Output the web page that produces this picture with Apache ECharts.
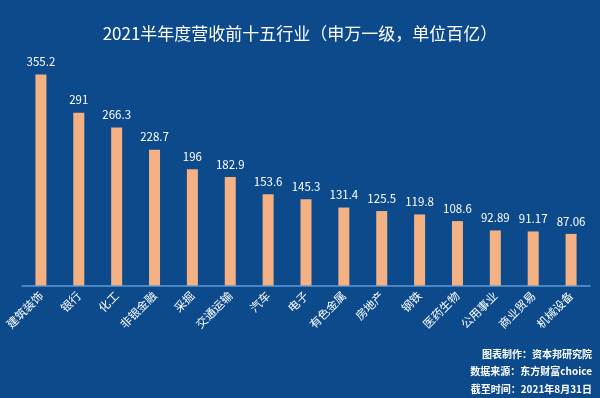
<!DOCTYPE html>
<html>
<head>
<meta charset="utf-8">
<script src="https://cdn.jsdelivr.net/npm/echarts@6/dist/echarts.min.js"></script>
<style>
  html, body { margin: 0; padding: 0; background: #0c4a8c; }
  #main { width: 600px; height: 398px; }
</style>
</head>
<body>
<div id="main"></div>
<script>
  // 行业名称
  var industries = ['建筑装饰', '银行', '化工', '非银金融', '采掘', '交通运输', '汽车', '电子',
    '有色金属', '房地产', '钢铁', '医药生物', '公用事业', '商业贸易', '机械设备'];
  // 营收（百亿）
  var revenue = [355.2, 291, 266.3, 228.7, 196, 182.9, 153.6, 145.3, 131.4, 125.5, 119.8, 108.6, 92.89, 91.17, 87.06];
  var notes = ['图表制作：资本邦研究院', '数据来源：东方财富choice', '截至时间：2021年8月31日'];

  var myChart = echarts.init(document.getElementById('main'));
  var font = '"Noto Sans CJK SC", "Noto Sans", sans-serif';

  myChart.setOption({
    backgroundColor: '#0c4a8c',
    textStyle: { fontFamily: font },
    title: {
      text: '2021半年度营收前十五行业（申万一级，单位百亿）',
      left: 'center',
      top: 20,
      textStyle: { color: '#ffffff', fontSize: 17, fontWeight: 'normal', fontFamily: font }
    },
    graphic: notes.map(function (t, i) {
      return {
        type: 'text',
        right: 8,
        top: 349 + i * 17.5,
        style: { text: t, fill: '#ffffff', font: 'bold 10px ' + font }
      };
    }),
    grid: { left: 22, right: 10, top: 48, height: 237.6 },
    xAxis: {
      type: 'category',
      data: industries,
      axisLine: { lineStyle: { color: '#5b9bd5', width: 1.5 } },
      axisTick: { show: false },
      axisLabel: { color: '#ffffff', fontSize: 11.5, rotate: 45, interval: 0, margin: 8, fontFamily: font }
    },
    yAxis: {
      type: 'value',
      min: 0,
      max: 400,
      show: false,
      splitLine: { show: false }
    },
    series: [{
      type: 'bar',
      data: revenue,
      barWidth: 11,
      itemStyle: { color: '#f4b183' },
      label: {
        show: true,
        position: 'top',
        distance: 7,
        color: '#ffffff',
        fontSize: 11.5,
        fontFamily: font
      }
    }]
  });
</script>
</body>
</html>
